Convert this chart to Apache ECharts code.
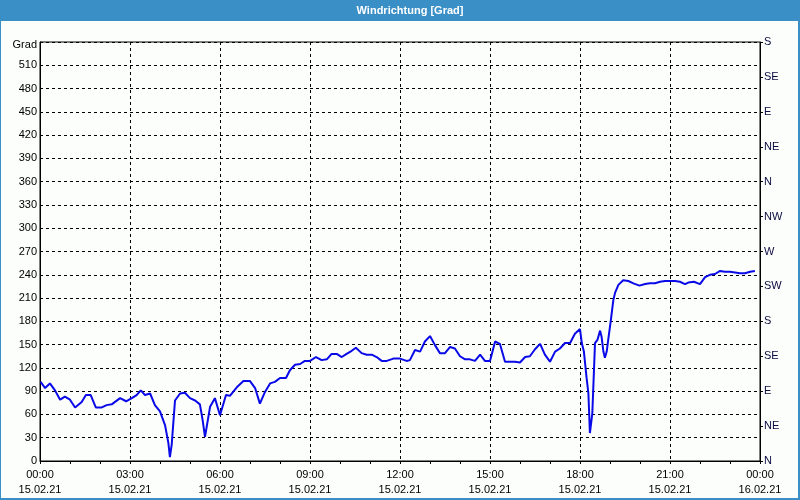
<!DOCTYPE html>
<html>
<head>
<meta charset="utf-8">
<script src="https://cdn.jsdelivr.net/npm/echarts@6/dist/echarts.min.js"></script>
<style>
html,body{margin:0;padding:0;background:#fcfefc;}
#c{width:800px;height:500px;}
</style>
</head>
<body>
<div id="c"></div>
<script>
var titleText = 'Windrichtung [Grad]';
var hours = [0.02,0.17,0.33,0.5,0.67,0.83,1.0,1.17,1.39,1.53,1.69,1.86,2.06,2.22,2.39,2.67,2.87,3.06,3.22,3.36,3.5,3.67,3.83,4.0,4.17,4.28,4.33,4.39,4.5,4.67,4.83,5.0,5.17,5.33,5.42,5.5,5.67,5.83,6.0,6.2,6.33,6.56,6.78,7.0,7.17,7.33,7.5,7.67,7.83,8.0,8.2,8.33,8.5,8.67,8.83,9.0,9.2,9.39,9.56,9.72,9.89,10.06,10.22,10.39,10.53,10.72,10.89,11.06,11.22,11.39,11.56,11.78,12.0,12.22,12.33,12.5,12.67,12.83,13.0,13.17,13.33,13.5,13.67,13.83,14.0,14.17,14.33,14.5,14.67,14.83,15.0,15.17,15.33,15.5,15.67,15.83,16.0,16.17,16.33,16.5,16.67,16.83,17.0,17.17,17.33,17.5,17.67,17.83,18.0,18.06,18.13,18.22,18.28,18.31,18.33,18.37,18.41,18.44,18.5,18.58,18.67,18.72,18.78,18.83,18.89,18.94,19.02,19.11,19.17,19.28,19.44,19.61,19.78,19.98,20.17,20.33,20.5,20.67,20.83,21.0,21.17,21.33,21.5,21.61,21.8,22.0,22.17,22.33,22.5,22.67,22.83,23.0,23.17,23.33,23.5,23.67,23.83];
var direction = [102,94,100,91,79,83,79,69,76,85,85,69,69,72,73,81,77,81,85,91,85,87,72,64,46,23,5,21,78,87,88,81,78,73,53,31,70,81,59,85,84,95,103,103,94,74,89,100,102,107,107,117,124,125,129,129,134,130,131,138,138,134,138,142,146,139,137,137,134,129,129,132,132,129,130,143,141,154,161,149,139,139,147,145,135,131,131,129,137,129,129,154,151,128,128,128,127,134,135,144,151,137,128,141,145,152,152,164,170,152,141,107,87,57,36,36,61,91,152,156,168,160,141,133,141,156,179,207,217,227,233,232,229,226,228,229,229,231,232,232,232,231,228,230,231,228,237,240,241,245,244,244,243,242,242,244,245];
var timeLabels = ['00:00','03:00','06:00','09:00','12:00','15:00','18:00','21:00','00:00'];
var dateLabels = ['15.02.21','15.02.21','15.02.21','15.02.21','15.02.21','15.02.21','15.02.21','15.02.21','16.02.21'];
var compassLabels = ['N','NE','E','SE','S','SW','W','NW','N','NE','E','SE','S'];
var unitLabel = 'Grad';

var pts = hours.map(function(h,i){return [h, direction[i]];});
var font = 'Liberation Sans';
var chart = echarts.init(document.getElementById('c'), null, {renderer:'canvas'});
chart.setOption({
  backgroundColor:'#fcfefc',
  animation:false,
  textStyle:{fontFamily:font},
  graphic:[
    {type:'rect', shape:{x:0,y:0,width:800,height:21}, style:{fill:'#3b8fc7'}, z:10},
    {type:'text', x:410, y:10.5, style:{text:titleText, fill:'#ffffff', font:'bold 11px "Liberation Sans"', textAlign:'center', textVerticalAlign:'middle'}, z:11},
    {type:'rect', shape:{x:0,y:0,width:1,height:500}, style:{fill:'#3b8fc7'}, z:10},
    {type:'rect', shape:{x:798,y:0,width:2,height:500}, style:{fill:'#3b8fc7'}, z:10},
    {type:'rect', shape:{x:0,y:498,width:800,height:2}, style:{fill:'#3b8fc7'}, z:10}
  ],
  grid:{left:40, right:40, top:42, bottom:39, show:true, borderColor:'#000', borderWidth:1, backgroundColor:'#fcfefc'},
  xAxis:{
    type:'value', min:0, max:24, interval:3,
    axisLine:{show:true, lineStyle:{color:'#000', width:1}},
    axisTick:{show:true, length:3, lineStyle:{color:'#000'}},
    minorTick:{show:true, splitNumber:3, length:3, lineStyle:{color:'#000'}},
    splitLine:{show:true, lineStyle:{color:'#000', type:[3,3], width:1}},
    axisLabel:{color:'#000', fontSize:11, fontFamily:font, lineHeight:15, margin:6,
      formatter:function(v){var i=Math.round(v/3); return timeLabels[i]+'\n'+dateLabels[i];}}
  },
  yAxis:[
    {type:'value', min:0, max:540, interval:30, position:'left',
      axisLine:{show:true, lineStyle:{color:'#000'}},
      axisTick:{show:false},
      splitLine:{show:true, lineStyle:{color:'#000', type:[3,3], width:1}},
      axisLabel:{color:'#000', fontSize:11, fontFamily:font, margin:3,
        formatter:function(v){return v===540 ? '{g|'+unitLabel+'}' : String(v);},
        rich:{g:{fontSize:11, fontFamily:font, color:'#000', padding:[6,0,0,0]}}}
    },
    {type:'value', min:0, max:540, interval:45, position:'right',
      axisLine:{show:true, lineStyle:{color:'#000'}},
      axisTick:{show:true, length:3, lineStyle:{color:'#000'}},
      splitLine:{show:false},
      axisLabel:{color:'#0a0a40', fontSize:11, fontFamily:font, margin:4,
        formatter:function(v){return compassLabels[Math.round(v/45)];}}
    }
  ],
  series:[{
    type:'line', data:pts, yAxisIndex:0, showSymbol:false, symbol:'none',
    lineStyle:{color:'#0a0ae8', width:2}, z:5
  }]
});
</script>
</body>
</html>
